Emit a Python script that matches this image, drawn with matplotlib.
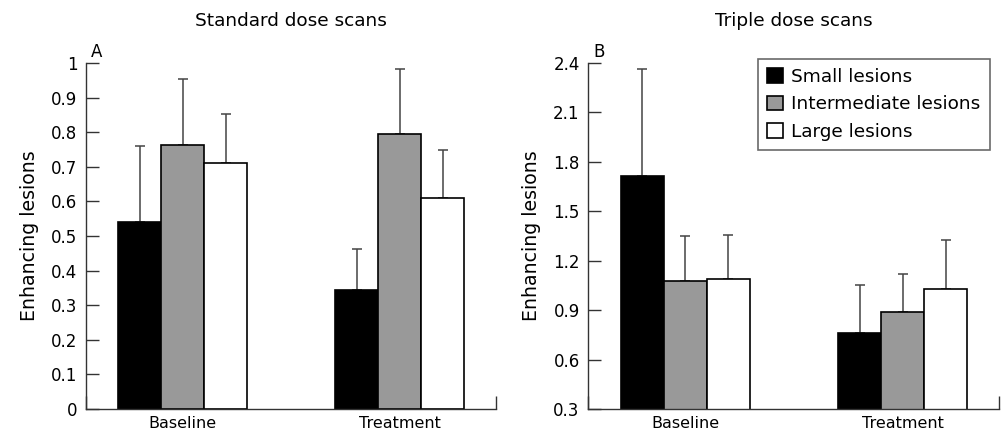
import numpy as np
import matplotlib
matplotlib.use("Agg")
import matplotlib.pyplot as plt

plt.rcParams['font.family'] = ['DejaVu Sans']

groups = ["Baseline", "Treatment"]
series = ["Small lesions", "Intermediate lesions", "Large lesions"]
colors = ["black", "#999999", "white"]

# standard dose: means and upper error values
std_means = [[0.54, 0.345], [0.763, 0.796], [0.712, 0.611]]
std_err = [[0.22, 0.118], [0.19, 0.187], [0.141, 0.138]]

# triple dose
tri_means = [[1.714, 0.76], [1.076, 0.889], [1.092, 1.031]]
tri_err = [[0.647, 0.295], [0.277, 0.231], [0.267, 0.292]]

fig = plt.figure(figsize=(10.03, 4.36), dpi=100)
ax1 = fig.add_axes([0.0857, 0.0619, 0.4088, 0.7936])
ax2 = fig.add_axes([0.5862, 0.0619, 0.4098, 0.7936])

x = np.arange(len(groups))
w = 0.198
xlim = (-0.447, 1.443)


def draw(ax, means, errs, ymin, ymax, yticks, ylabels, title, letter):
    for i in range(3):
        pos = x + (i - 1) * w
        # bars start at 0, axis may start higher and clip them
        ax.bar(pos, means[i], w, color=colors[i], edgecolor="black",
               linewidth=1.2, label=series[i], zorder=2)
        ax.errorbar(pos, means[i], yerr=[np.zeros(2), errs[i]], fmt="none",
                    ecolor="#444444", elinewidth=1.1, capsize=3.5,
                    capthick=1.1, zorder=1)
    ax.set_xlim(*xlim)
    ax.set_ylim(ymin, ymax)
    ax.set_yticks(yticks)
    ax.set_yticklabels(ylabels, fontsize=12)
    ax.set_xticks(list(xlim))
    ax.set_xticklabels(["", ""])
    ax.set_xticks(x, minor=True)
    ax.set_xticklabels(groups, minor=True, fontsize=11.5)
    ax.tick_params(axis="x", which="minor", length=0, pad=5)
    ax.tick_params(axis="both", which="major", direction="in", length=9.5,
                   width=1, color="#333333")
    ax.tick_params(axis="y", pad=6)
    for s in ["top", "right"]:
        ax.spines[s].set_visible(False)
    for s in ["left", "bottom"]:
        ax.spines[s].set_color("#333333")
        ax.spines[s].set_linewidth(1)
    ax.set_ylabel("Enhancing lesions", fontsize=13.6, labelpad=9)
    ax.set_title(title, fontsize=13.3, pad=27)
    ax.text(0.012, 1.005, letter, transform=ax.transAxes, fontsize=12,
            ha="left", va="bottom")


draw(ax1, std_means, std_err, 0, 1.0,
     np.arange(0, 1.01, 0.1),
     ["0", "0.1", "0.2", "0.3", "0.4", "0.5", "0.6", "0.7", "0.8", "0.9", "1"],
     "Standard dose scans", "A")

draw(ax2, tri_means, tri_err, 0.3, 2.4,
     [0.3, 0.6, 0.9, 1.2, 1.5, 1.8, 2.1, 2.4],
     ["0.3", "0.6", "0.9", "1.2", "1.5", "1.8", "2.1", "2.4"],
     "Triple dose scans", "B")

leg = ax2.legend(loc="upper right", bbox_to_anchor=(0.978, 1.012),
                 fontsize=13.3, handlelength=0.85, handleheight=0.85,
                 handletextpad=0.45, labelspacing=0.5, borderpad=0.5,
                 borderaxespad=0, fancybox=False, frameon=True)
leg.get_frame().set_edgecolor("#444444")
leg.get_frame().set_linewidth(1.2)

fig.savefig("out.png", dpi=100)
